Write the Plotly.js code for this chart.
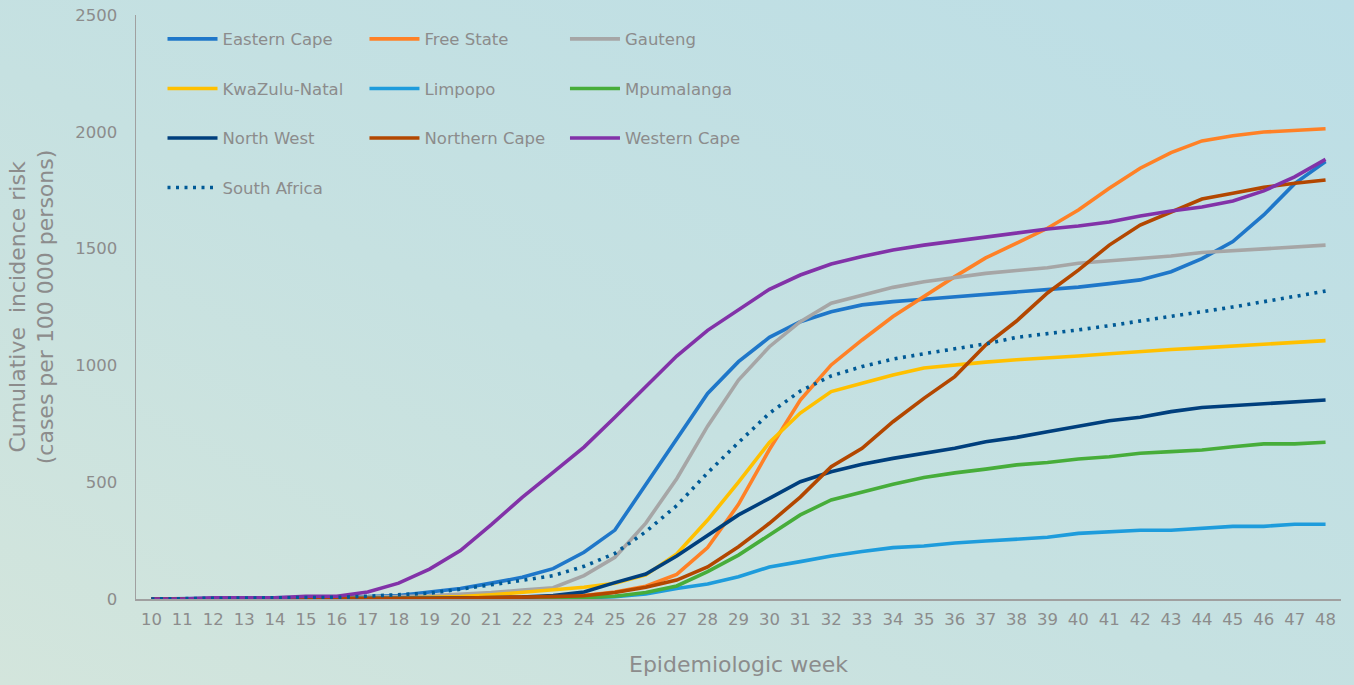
<!DOCTYPE html>
<html>
<head>
<meta charset="utf-8">
<script src="https://cdn.plot.ly/plotly-3.0.1.min.js"></script>
<style>
html,body{margin:0;padding:0;width:1354px;height:685px;overflow:hidden;
background:linear-gradient(to top right,#d3e5dc 0%,#c6e1e1 45%,#bcdee6 100%);}
#chart{width:1354px;height:685px;}
</style>
</head>
<body>
<div id="chart"></div>
<script>
const weeks = [10,11,12,13,14,15,16,17,18,19,20,21,22,23,24,25,26,27,28,29,30,31,32,33,34,35,36,37,38,39,40,41,42,43,44,45,46,47,48];

const easternCape  = [0,0,3,4,5,6,7,10,15,30,45,68,93,130,200,295,490,690,880,1016,1120,1187,1230,1259,1273,1283,1294,1304,1315,1327,1335,1350,1366,1401,1457,1530,1644,1778,1873];
const freeState    = [0,0,1,1,1,2,2,3,3,4,5,6,8,10,15,30,55,105,220,405,640,852,1002,1109,1209,1294,1380,1460,1523,1587,1665,1758,1844,1911,1961,1983,1999,2006,2013];
const gauteng      = [0,0,2,3,3,4,5,7,10,14,20,28,38,48,100,178,325,515,740,937,1080,1187,1266,1301,1334,1358,1377,1394,1406,1418,1437,1448,1458,1468,1483,1491,1498,1507,1515];
const kwaZuluNatal = [0,0,1,1,1,2,2,3,4,6,10,18,28,38,50,67,103,193,338,500,670,796,888,924,959,989,1002,1014,1024,1031,1040,1050,1060,1068,1075,1083,1090,1097,1106];
const limpopo      = [0,0,0,0,0,0,1,1,1,2,2,3,3,4,5,10,22,45,64,95,137,160,184,203,220,227,240,248,255,264,281,288,294,294,302,311,311,320,320];
const mpumalanga   = [0,0,0,0,0,0,1,1,1,1,2,2,3,4,6,12,28,56,117,188,274,360,424,459,491,520,540,556,574,584,599,609,624,631,638,652,664,664,671];
const northWest    = [0,0,0,0,0,0,1,1,2,3,4,5,8,15,30,70,107,184,274,360,431,502,545,577,602,624,645,673,692,716,738,763,778,802,820,828,835,842,852];
const northernCape = [0,0,0,0,0,0,1,1,2,3,4,5,7,10,14,28,50,81,137,224,324,436,566,645,759,859,952,1087,1190,1310,1408,1515,1601,1658,1712,1737,1762,1780,1794];
const westernCape  = [0,0,5,5,5,12,12,30,68,128,207,318,435,542,650,778,907,1040,1150,1237,1326,1387,1434,1466,1494,1515,1532,1550,1567,1584,1597,1614,1640,1661,1678,1704,1747,1807,1882];
const southAfrica  = [0,0,3,4,5,6,7,12,17,25,42,60,80,100,140,195,288,400,540,670,795,890,955,995,1027,1050,1070,1092,1120,1135,1152,1170,1191,1210,1230,1250,1273,1295,1318];

const seriesNames = ["Eastern Cape","Free State","Gauteng","KwaZulu-Natal","Limpopo","Mpumalanga","North West","Northern Cape","Western Cape","South Africa"];
const seriesData = [easternCape,freeState,gauteng,kwaZuluNatal,limpopo,mpumalanga,northWest,northernCape,westernCape,southAfrica];
const seriesColors = ["#1f77c9","#ff8126","#a6a6a6","#ffc000","#1e9cdc","#47ad3a","#003f7d","#b34700","#8232a8","#005a96"];
const seriesLegend = ["legend","legend2","legend3","legend","legend2","legend3","legend","legend2","legend3","legend"];

const FONT = "DejaVu Sans, Open Sans, sans-serif";
const TXT = "#8c8c8c";

const traces = seriesNames.map((n,i)=>({
  type:"scatter", mode:"lines", name:n, x:weeks, y:seriesData[i],
  legend: seriesLegend[i], legendgroup: n,
  line:{color:seriesColors[i], width:3.6, dash: n==="South Africa" ? "3px,5.5px" : "solid"},
  hoverinfo:"x+y+name"
}));

const legBase = {font:{family:FONT,size:16.5,color:TXT}, bgcolor:"rgba(0,0,0,0)",
  orientation:"v", tracegroupgap:25.1, xanchor:"left", yanchor:"top", itemwidth:50};

const layout = {
  width:1354, height:685,
  paper_bgcolor:"rgba(0,0,0,0)", plot_bgcolor:"rgba(0,0,0,0)",
  margin:{l:136, r:13, t:15, b:86},
  font:{family:FONT, color:TXT},
  showlegend:true,
  legend: Object.assign({}, legBase, {x:0.022, y:0.9886}),
  legend2: Object.assign({}, legBase, {x:0.1896, y:0.9886}),
  legend3: Object.assign({}, legBase, {x:0.356, y:0.9886}),
  xaxis:{range:[9.5,48.5], tickmode:"linear", tick0:10, dtick:1, showgrid:false, zeroline:false,
    showline:true, linecolor:"#a0a0a0", linewidth:1.5, ticks:"", ticklabelstandoff:5,
    tickfont:{family:FONT,size:16.5,color:TXT},
    title:{text:"Epidemiologic week", font:{family:FONT,size:22,color:TXT}, standoff:28}},
  yaxis:{range:[0,2500], dtick:500, showgrid:false, zeroline:false,
    showline:true, linecolor:"#a0a0a0", linewidth:1.5, ticks:"", ticklabelstandoff:14,
    tickfont:{family:FONT,size:16.5,color:TXT},
    title:{text:"Cumulative  incidence risk<br>(cases per 100 000 persons)", font:{family:FONT,size:22,color:TXT}, standoff:15}}
};

Plotly.newPlot("chart", traces, layout, {displayModeBar:false, staticPlot:true});
</script>
</body>
</html>
